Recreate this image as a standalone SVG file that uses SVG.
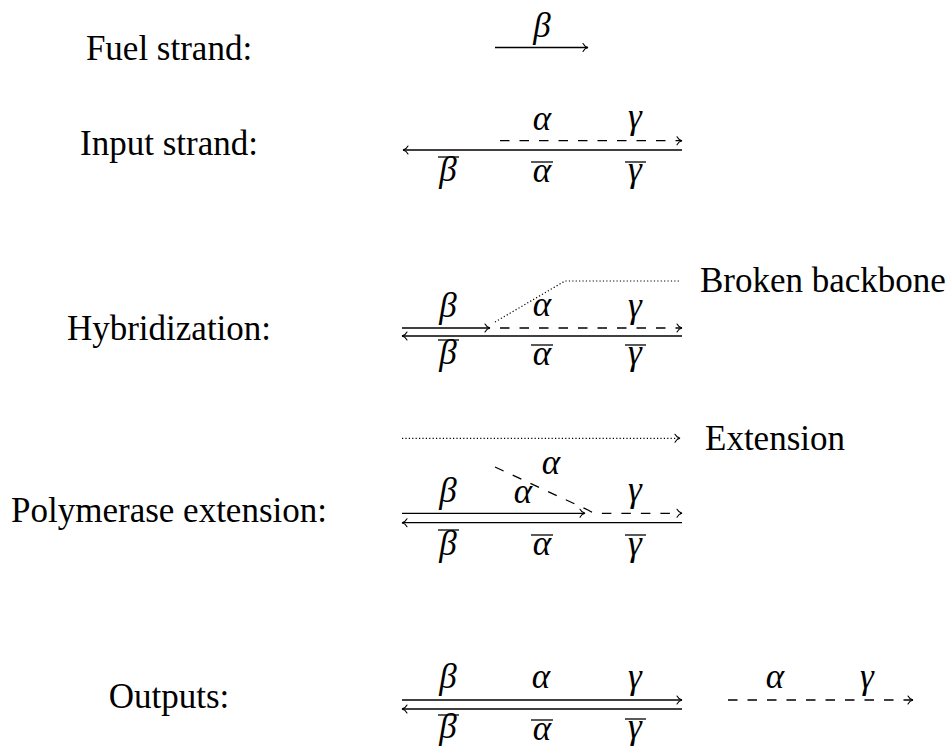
<svg xmlns="http://www.w3.org/2000/svg" width="946" height="747" viewBox="0 0 946 747">
<style>
.lbl{font-family:"Liberation Serif","Times New Roman",serif;font-size:35px;fill:#000;text-anchor:middle}
.side{font-family:"Liberation Serif","Times New Roman",serif;font-size:35px;fill:#000}
.g{font-family:"Liberation Serif","Times New Roman",serif;font-style:italic;font-size:35px;fill:#000;text-anchor:middle}
.s{fill:none;stroke:#000;stroke-width:1.3}
.d{fill:none;stroke:#000;stroke-width:1.3;stroke-dasharray:9.5 10}
.o{fill:none;stroke:#000;stroke-width:1.2;stroke-dasharray:1.2 2.2}
.bar{stroke:#000;stroke-width:1.3}
</style>
<defs>
<marker id="ah" markerUnits="userSpaceOnUse" markerWidth="10" markerHeight="10" refX="0" refY="0" orient="auto" overflow="visible">
<path d="M-5,-4 C-3.8,-1.6 -1.6,-0.4 0,0 C-1.6,0.4 -3.8,1.6 -5,4" fill="none" stroke="#000" stroke-width="1.1" stroke-dasharray="none" stroke-linecap="round"/>
</marker>
</defs>

<g id="labels">
<text class="lbl" x="169" y="60">Fuel strand:</text>
<text class="lbl" x="169" y="155">Input strand:</text>
<text class="lbl" x="169" y="340">Hybridization:</text>
<text class="lbl" x="169" y="522">Polymerase extension:</text>
<text class="lbl" x="169" y="708">Outputs:</text>
</g>

<g id="connectors">
<path class="s" d="M495,47.5 H588" marker-end="url(#ah)"/>
<path class="s" d="M682,150 H403" marker-end="url(#ah)"/>
<path class="d" d="M500,140.7 H682" marker-end="url(#ah)"/>
<path class="s" d="M402,328 H490" marker-end="url(#ah)"/>
<path class="d" d="M500,328 H682" marker-end="url(#ah)"/>
<path class="s" d="M682,336 H402" marker-end="url(#ah)"/>
<path class="o" d="M495,322 L565,281 H680"/>
<path class="o" d="M402,438.3 H680" marker-end="url(#ah)"/>
<path class="s" d="M402,513.3 H585" marker-end="url(#ah)"/>
<path class="s" d="M682,522.7 H402" marker-end="url(#ah)"/>
<path class="d" d="M495,467 L589,510.5 Q593,513.3 598,513.3 H682" marker-end="url(#ah)"/>
<path class="s" d="M402,700 H682" marker-end="url(#ah)"/>
<path class="s" d="M682,709 H402" marker-end="url(#ah)"/>
<path class="d" d="M728,700 H913" marker-end="url(#ah)"/>
</g>

<g id="fuel">
<text class="g" x="542" y="37">β</text>
</g>

<g id="input">
<text class="g" x="542" y="130">α</text>
<text class="g" x="635" y="128">γ</text>
<text class="g" x="448" y="181">β</text>
<text class="g" x="542" y="182">α</text>
<text class="g" x="635" y="181">γ</text>
<line class="bar" x1="438" y1="157" x2="459" y2="157"/>
<line class="bar" x1="531" y1="162" x2="553" y2="162"/>
<line class="bar" x1="625" y1="162" x2="646" y2="162"/>
</g>

<g id="hybridization">
<text class="g" x="448" y="317">β</text>
<text class="g" x="542" y="316">α</text>
<text class="g" x="635" y="317">γ</text>
<text class="g" x="448" y="364">β</text>
<text class="g" x="542" y="365">α</text>
<text class="g" x="635" y="364">γ</text>
<line class="bar" x1="438" y1="340" x2="459" y2="340"/>
<line class="bar" x1="531" y1="345" x2="553" y2="345"/>
<line class="bar" x1="625" y1="345" x2="646" y2="345"/>
<text class="side" x="700" y="292">Broken backbone</text>
</g>

<g id="polymerase">
<text class="side" x="705" y="450">Extension</text>
<text class="g" x="551" y="474">α</text>
<text class="g" x="523" y="503">α</text>
<text class="g" x="448" y="502">β</text>
<text class="g" x="635" y="501">γ</text>
<text class="g" x="448" y="555">β</text>
<text class="g" x="542" y="555">α</text>
<text class="g" x="635" y="555">γ</text>
<line class="bar" x1="438" y1="530" x2="459" y2="530"/>
<line class="bar" x1="531" y1="535" x2="553" y2="535"/>
<line class="bar" x1="625" y1="535" x2="646" y2="535"/>
</g>

<g id="outputs">
<text class="g" x="448" y="688">β</text>
<text class="g" x="541" y="688">α</text>
<text class="g" x="635" y="688">γ</text>
<text class="g" x="448" y="738">β</text>
<text class="g" x="542" y="740">α</text>
<text class="g" x="635" y="738">γ</text>
<line class="bar" x1="438" y1="715" x2="459" y2="715"/>
<line class="bar" x1="531" y1="720" x2="553" y2="720"/>
<line class="bar" x1="625" y1="719" x2="646" y2="719"/>
<text class="g" x="775" y="688">α</text>
<text class="g" x="867" y="688">γ</text>
</g>
</svg>
